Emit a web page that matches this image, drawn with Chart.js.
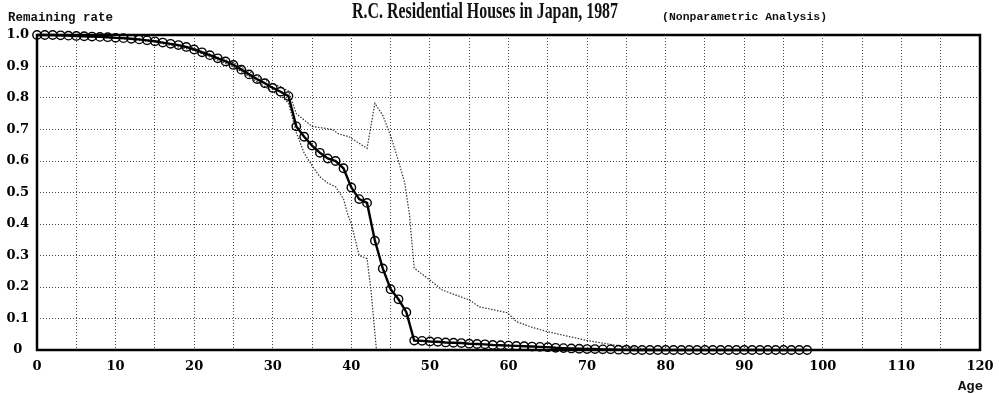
<!DOCTYPE html>
<html>
<head>
<meta charset="utf-8">
<script src="https://cdn.jsdelivr.net/npm/chart.js@4/dist/chart.umd.min.js"></script>
<style>
  body { margin: 0; background: #fff; }
</style>
</head>
<body>
<canvas id="myChart" width="999" height="394"></canvas>
<script>
// remaining rate, one value per age 0..98
const rateAges = [
  0, 1, 2, 3, 4, 5, 6, 7, 8, 9,
  10, 11, 12, 13, 14, 15, 16, 17, 18, 19,
  20, 21, 22, 23, 24, 25, 26, 27, 28, 29,
  30, 31, 32, 33, 34, 35, 36, 37, 38, 39,
  40, 41, 42, 43, 44, 45, 46, 47, 48, 49,
  50, 51, 52, 53, 54, 55, 56, 57, 58, 59,
  60, 61, 62, 63, 64, 65, 66, 67, 68, 69,
  70, 71, 72, 73, 74, 75, 76, 77, 78, 79,
  80, 81, 82, 83, 84, 85, 86, 87, 88, 89,
  90, 91, 92, 93, 94, 95, 96, 97, 98
]
const remainingRate = [
  1.000, 1.000, 1.000, 0.999, 0.998, 0.997, 0.996, 0.995, 0.994, 0.993,
  0.991, 0.990, 0.988, 0.986, 0.983, 0.980, 0.976, 0.972, 0.968, 0.962,
  0.954, 0.945, 0.936, 0.926, 0.916, 0.905, 0.890, 0.875, 0.860, 0.847,
  0.832, 0.820, 0.806, 0.710, 0.677, 0.649, 0.626, 0.608, 0.600, 0.577,
  0.516, 0.479, 0.467, 0.347, 0.259, 0.193, 0.161, 0.120, 0.030, 0.029,
  0.027, 0.026, 0.024, 0.023, 0.022, 0.020, 0.019, 0.018, 0.016, 0.015,
  0.014, 0.013, 0.012, 0.011, 0.010, 0.009, 0.007, 0.006, 0.005, 0.004,
  0.003, 0.003, 0.002, 0.002, 0.001, 0.001, 0, 0, 0, 0,
  0, 0, 0, 0, 0, 0, 0, 0, 0, 0,
  0, 0, 0, 0, 0, 0, 0, 0, 0
]

// upper confidence line
const upperAges = [0, 5, 10, 15, 20, 25, 28, 30, 31, 32, 33, 35, 37.6, 38.4, 39.7, 42, 43, 44, 45, 46, 46.8, 47.4, 48, 50, 51.6, 55, 56.3, 59.9, 61, 63, 65, 70, 75, 78.4, 80]
const upperRate = [1.0, 0.998, 0.992, 0.982, 0.957, 0.912, 0.870, 0.845, 0.836, 0.822, 0.750, 0.710, 0.700, 0.686, 0.677, 0.640, 0.783, 0.745, 0.680, 0.600, 0.530, 0.430, 0.260, 0.222, 0.190, 0.159, 0.137, 0.118, 0.090, 0.072, 0.058, 0.030, 0.009, 0.002, 0]

// lower confidence line
const lowerAges = [0, 5, 10, 15, 20, 25, 28, 30, 31, 32, 33, 34, 35, 36, 37, 38, 39, 39.5, 40, 41, 42, 42.5, 43.1, 43.2]
const lowerRate = [1.0, 0.996, 0.990, 0.978, 0.951, 0.899, 0.852, 0.820, 0.806, 0.785, 0.690, 0.625, 0.585, 0.550, 0.530, 0.518, 0.480, 0.434, 0.400, 0.300, 0.290, 0.190, 0.026, 0]

const xTicks = [0, 10, 20, 30, 40, 50, 60, 70, 80, 90, 100, 110, 120]
const yTicks = [0, 0.1, 0.2, 0.3, 0.4, 0.5, 0.6, 0.7, 0.8, 0.9, 1.0]

function toPoints(xs, ys) {
  let pts = []
  for (let i = 0; i < xs.length; i++) {
    pts.push({ x: xs[i], y: ys[i] })
  }
  return pts
}

function fitText(ctx, text, font, left, midY, width) {
  ctx.save()
  ctx.font = font
  ctx.fillStyle = "#111"
  ctx.textBaseline = "middle"
  ctx.textAlign = "left"
  let w = ctx.measureText(text).width
  ctx.translate(left, midY)
  ctx.scale(width / w, 1)
  ctx.fillText(text, 0, 0)
  ctx.restore()
}

const frameAndText = {
  id: "frameAndText",
  afterDraw(chart) {
    const ctx = chart.ctx
    const a = chart.chartArea
    ctx.save()
    ctx.strokeStyle = "#000"
    ctx.lineWidth = 2.5
    ctx.strokeRect(a.left, a.top, a.right - a.left, a.bottom - a.top)
    ctx.restore()

    fitText(ctx, "Remaining rate", "bold 12px 'Liberation Mono'", 8, 18, 105)
    fitText(ctx, "R.C. Residential Houses in Japan, 1987", "bold 23px 'Liberation Serif'", 352, 12, 266)
    fitText(ctx, "(Nonparametric Analysis)", "bold 11px 'Liberation Mono'", 662, 17, 165)
    fitText(ctx, "Age", "bold 12px 'Liberation Mono'", 958, 387, 25)
  }
}

function drawChart() {
  const ctx = document.getElementById("myChart")

  new Chart(ctx, {
    type: "line",
    data: {
      datasets: [
        {
          label: "Remaining rate",
          data: toPoints(rateAges, remainingRate),
          borderColor: "#000",
          borderWidth: 2.4,
          pointRadius: 4.2,
          pointBorderWidth: 1.4,
          pointBorderColor: "#000",
          pointBackgroundColor: "rgba(0,0,0,0)",
          tension: 0,
          clip: false,
        },
        {
          label: "Upper",
          data: toPoints(upperAges, upperRate),
          borderColor: "#333",
          borderWidth: 1.2,
          borderDash: [1.5, 1.5],
          pointRadius: 0,
          tension: 0,
          clip: false,
        },
        {
          label: "Lower",
          data: toPoints(lowerAges, lowerRate),
          borderColor: "#333",
          borderWidth: 1.2,
          borderDash: [1.5, 1.5],
          pointRadius: 0,
          tension: 0,
          clip: false,
        },
      ],
    },
    options: {
      responsive: false,
      animation: false,
      layout: { padding: { top: 35, right: 19, left: 0, bottom: 0 } },
      plugins: {
        legend: { display: false },
        tooltip: { enabled: false },
      },
      scales: {
        x: {
          type: "linear",
          min: 0,
          max: 120,
          afterFit: function (scale) {
            scale.height = 44
            scale.paddingLeft = 0
            scale.paddingRight = 0
          },
          grid: { color: "#444", lineWidth: 1, drawTicks: false },
          border: { display: false, dash: [1, 2] },
          ticks: {
            stepSize: 5,
            padding: 9,
            color: "#000",
            maxRotation: 0,
            autoSkip: false,
            font: { family: "'DejaVu Serif'", size: 13, weight: "bold" },
            callback: function (v) { return xTicks.includes(v) ? String(v) : "" },
          },
        },
        y: {
          min: 0,
          max: 1.0,
          afterFit: function (scale) { scale.width = 37 },
          grid: { color: "#444", lineWidth: 1, drawTicks: false },
          border: { display: false, dash: [1, 2] },
          ticks: {
            stepSize: 0.1,
            padding: 8,
            crossAlign: "center",
            color: "#000",
            font: { family: "'DejaVu Serif'", size: 13, weight: "bold" },
            callback: function (v) {
              let t = Math.round(v * 10) / 10
              if (!yTicks.includes(t)) return ""
              if (t === 0) return "0"
              return t.toFixed(1)
            },
          },
        },
      },
    },
    plugins: [frameAndText],
  })
}

document.addEventListener("DOMContentLoaded", drawChart)
</script>
</body>
</html>
